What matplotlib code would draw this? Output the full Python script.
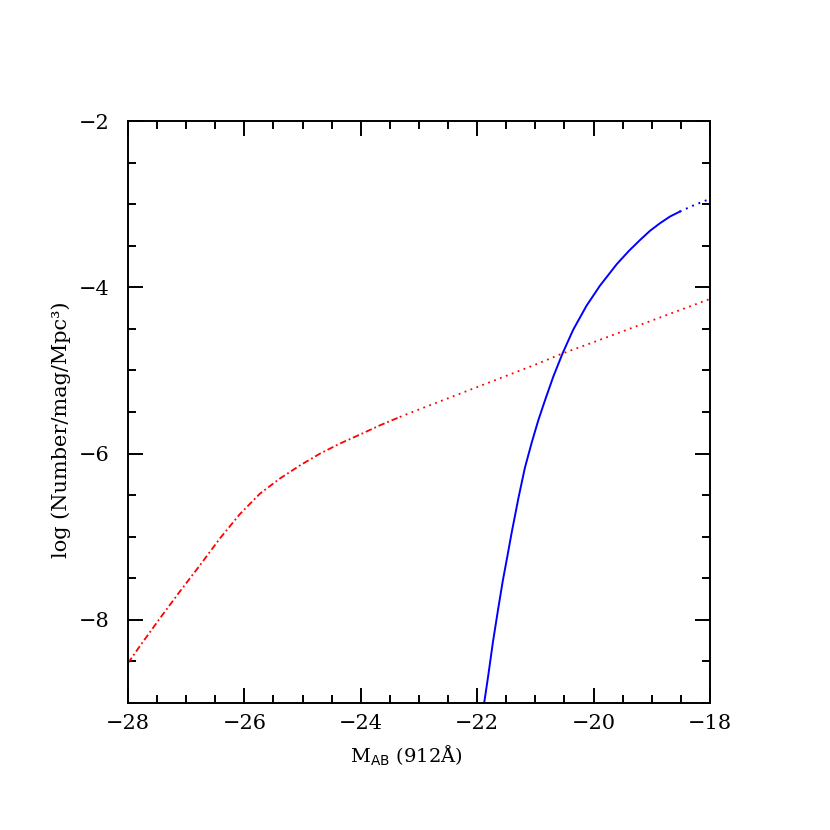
import numpy as np
import matplotlib
matplotlib.use('Agg')
import matplotlib.pyplot as plt
from matplotlib.ticker import MultipleLocator

# red curve, dash-dot part (bright end)
red_dd_x = [-28.0, -27.79, -27.45, -27.11, -26.76, -26.42, -26.08, -25.73,
            -25.39, -25.04, -24.70, -24.36, -24.01, -23.67, -23.33]
red_dd_y = [-8.52, -8.31, -7.98, -7.66, -7.34, -7.02, -6.73, -6.48,
            -6.30, -6.14, -6.00, -5.88, -5.77, -5.66, -5.56]
# red curve, dotted part
red_dot_x = [-23.33, -23.04, -22.0, -21.0, -20.55, -20.0, -19.0, -18.0]
red_dot_y = [-5.56, -5.48, -5.20, -4.93, -4.80, -4.66, -4.40, -4.14]

# blue curve, solid part
blue_x = [-21.88, -21.81, -21.73, -21.64, -21.56, -21.48, -21.41, -21.29,
          -21.18, -21.06, -20.95, -20.84, -20.69, -20.53, -20.35, -20.12,
          -19.89, -19.60, -19.39, -19.20, -19.03, -18.86, -18.69, -18.52]
blue_y = [-9.00, -8.67, -8.27, -7.87, -7.53, -7.23, -6.96, -6.53,
          -6.17, -5.86, -5.60, -5.37, -5.07, -4.79, -4.51, -4.22,
          -3.98, -3.72, -3.56, -3.43, -3.32, -3.23, -3.15, -3.09]
# blue curve, dotted part
blue_dot_x = [-18.52, -18.30, -18.05]
blue_dot_y = [-3.09, -3.02, -2.95]

plt.rcParams['font.family'] = ['DejaVu Serif']

fig = plt.figure(figsize=(8.3, 8.3), dpi=100)
ax = fig.add_axes([0.1542, 0.1530, 0.7012, 0.7012])

ax.plot(red_dd_x, red_dd_y, color='red', lw=1.3, linestyle=(0, (3.6, 1.6, 1, 1.6)))
ax.plot(red_dot_x, red_dot_y, color='red', lw=1.3, linestyle=(0, (1, 2.5)))
ax.plot(blue_x, blue_y, color='blue', lw=1.4)
ax.plot(blue_dot_x, blue_dot_y, color='blue', lw=1.4, linestyle=(0, (1, 2.5)))

ax.set_xlim(-28, -18)
ax.set_ylim(-9, -2)
ax.xaxis.set_major_locator(MultipleLocator(2))
ax.xaxis.set_minor_locator(MultipleLocator(0.5))
ax.yaxis.set_major_locator(MultipleLocator(2))
ax.yaxis.set_minor_locator(MultipleLocator(0.5))
ax.tick_params(which='both', direction='in', top=True, right=True, width=1.4,
               labelsize=15)
ax.tick_params(axis='x', pad=8)
ax.tick_params(axis='y', pad=13)
ax.tick_params(which='major', length=10.8)
ax.tick_params(which='minor', length=5.8)
for s in ax.spines.values():
    s.set_linewidth(1.4)

ax.set_xlabel(r'M$_{\mathbf{\mathsf{AB}}}$ (912Å)', fontsize=14)
ax.set_ylabel('log (Number/mag/Mpc³)', fontsize=15)
ax.xaxis.set_label_coords(0.478, -0.07)
ax.yaxis.set_label_coords(-0.098, 0.47)

fig.savefig('out.png', dpi=100)
